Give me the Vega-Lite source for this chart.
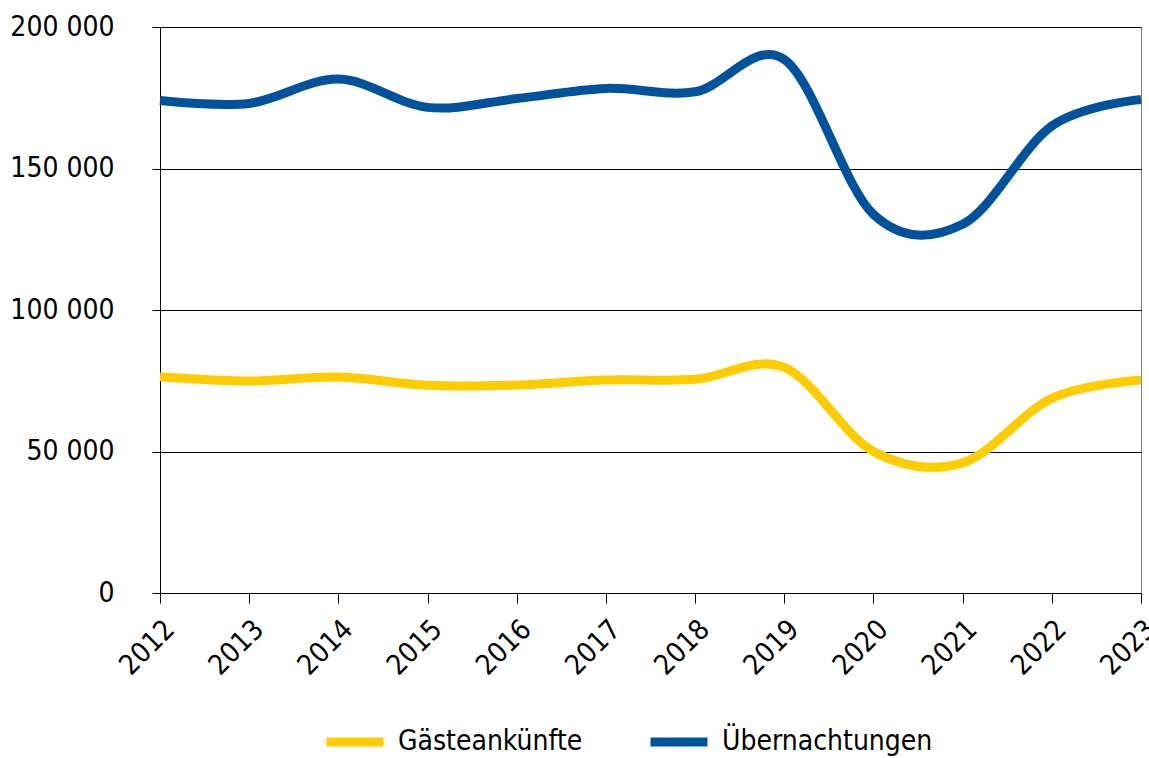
{
  "$schema": "https://vega.github.io/schema/vega-lite/v6.json",
  "width": 981,
  "height": 566,
  "autosize": {"type": "none"},
  "padding": {"left": 160, "top": 27, "right": 8, "bottom": 165},
  "background": "white",
  "config": {"font": "DejaVu Sans Condensed", "view": {"stroke": "#808080", "strokeWidth": 1}},
  "data": {"values": [
    {"Jahr": 2012, "Serie": "Gästeankünfte", "Wert": 76400},
    {"Jahr": 2013, "Serie": "Gästeankünfte", "Wert": 74900},
    {"Jahr": 2014, "Serie": "Gästeankünfte", "Wert": 76300},
    {"Jahr": 2015, "Serie": "Gästeankünfte", "Wert": 73400},
    {"Jahr": 2016, "Serie": "Gästeankünfte", "Wert": 73500},
    {"Jahr": 2017, "Serie": "Gästeankünfte", "Wert": 75300},
    {"Jahr": 2018, "Serie": "Gästeankünfte", "Wert": 75500},
    {"Jahr": 2019, "Serie": "Gästeankünfte", "Wert": 79700},
    {"Jahr": 2020, "Serie": "Gästeankünfte", "Wert": 50000},
    {"Jahr": 2021, "Serie": "Gästeankünfte", "Wert": 46000},
    {"Jahr": 2022, "Serie": "Gästeankünfte", "Wert": 68800},
    {"Jahr": 2023, "Serie": "Gästeankünfte", "Wert": 75300},
    {"Jahr": 2012, "Serie": "Übernachtungen", "Wert": 174000},
    {"Jahr": 2013, "Serie": "Übernachtungen", "Wert": 173000},
    {"Jahr": 2014, "Serie": "Übernachtungen", "Wert": 181600},
    {"Jahr": 2015, "Serie": "Übernachtungen", "Wert": 171600},
    {"Jahr": 2016, "Serie": "Übernachtungen", "Wert": 174700},
    {"Jahr": 2017, "Serie": "Übernachtungen", "Wert": 178300},
    {"Jahr": 2018, "Serie": "Übernachtungen", "Wert": 177100},
    {"Jahr": 2019, "Serie": "Übernachtungen", "Wert": 188500},
    {"Jahr": 2020, "Serie": "Übernachtungen", "Wert": 133800},
    {"Jahr": 2021, "Serie": "Übernachtungen", "Wert": 130300},
    {"Jahr": 2022, "Serie": "Übernachtungen", "Wert": 165000},
    {"Jahr": 2023, "Serie": "Übernachtungen", "Wert": 174400}
  ]},
  "mark": {"type": "line", "interpolate": "cardinal", "strokeWidth": 9},
  "encoding": {
    "x": {
      "field": "Jahr", "type": "quantitative",
      "scale": {"domain": [2012, 2023], "nice": false, "zero": false},
      "axis": {"title": null, "values": [2012, 2013, 2014, 2015, 2016, 2017, 2018, 2019, 2020, 2021, 2022, 2023],
        "format": "d", "labelAngle": -45, "labelFontSize": 28, "labelColor": "black",
        "domainColor": "black", "tickColor": "black", "tickSize": 10, "grid": false, "labelPadding": 12,
        "labelOverlap": false, "labelBound": false}
    },
    "y": {
      "field": "Wert", "type": "quantitative",
      "scale": {"domain": [0, 200000], "nice": false},
      "axis": {"title": null, "values": [0, 50000, 100000, 150000, 200000],
        "labelExpr": "replace(format(datum.value, ','), ',', ' ')",
        "labelFontSize": 28, "labelColor": "black", "domainColor": "black", "tickColor": "black",
        "tickSize": 8, "gridColor": "black", "gridOpacity": 1, "labelPadding": 38}
    },
    "color": {
      "field": "Serie", "type": "nominal",
      "scale": {"domain": ["Gästeankünfte", "Übernachtungen"], "range": ["#FFCC00", "#00529C"]},
      "legend": {"title": null, "orient": "none", "direction": "horizontal", "legendX": 162, "legendY": 682,
        "symbolType": "stroke", "symbolSize": 3249, "symbolStrokeWidth": 9,
        "labelFontSize": 28, "labelColor": "black", "labelLimit": 400, "columnPadding": 49, "labelOffset": 10}
    }
  }
}
